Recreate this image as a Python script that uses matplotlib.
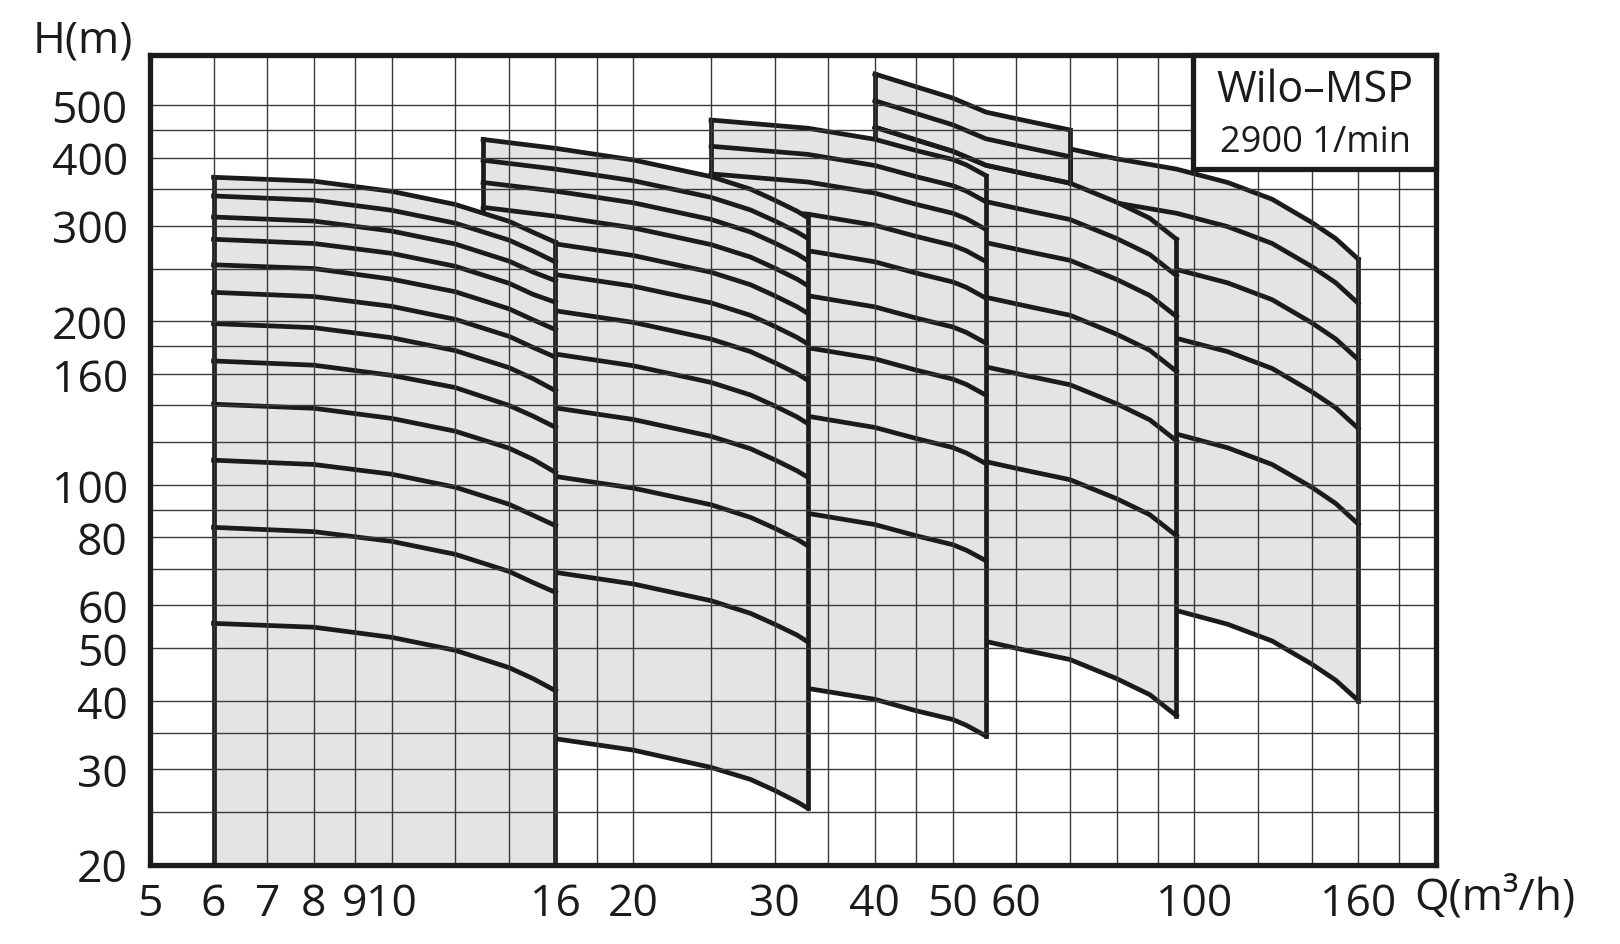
import matplotlib
matplotlib.use("Agg")
import matplotlib.pyplot as plt
from matplotlib.patches import Rectangle

plt.rcParams['font.family'] = ['Open Sans', 'DejaVu Sans']

# axis grid and labels
X_LABELED = [5, 6, 7, 8, 9, 10, 16, 20, 30, 40, 50, 60, 100, 160]
X_GRID = [12, 14, 18, 25, 35, 45, 70, 80, 90, 120, 140, 180]
Y_LABELED = [20, 30, 40, 50, 60, 80, 100, 160, 200, 300, 400, 500]
Y_GRID = [25, 35, 70, 90, 120, 140, 180, 250, 350, 450]

# pump family 1 (6 - 16 m3/h), one row per stage curve
Q_A = [6, 8, 10, 12, 14, 15, 16]
H_A = [
    [55.6, 54.7, 52.4, 49.6, 46.1, 44.0, 41.8],
    [83.5, 82.0, 78.7, 74.5, 69.3, 66.1, 63.4],
    [111, 109, 104.6, 99.0, 92.1, 87.9, 84.1],
    [140.7, 138.3, 132.5, 125.5, 116.8, 111.4, 105.4],
    [169, 166, 159, 151, 140, 133.8, 127.6],
    [198, 194.6, 186.5, 176.6, 164.3, 156.8, 149],
    [226, 222, 213, 201.6, 187.6, 179, 171.7],
    [254, 250, 239, 226.6, 210.8, 201.2, 193],
    [283, 278, 266.6, 252.4, 234.9, 224.1, 216.7],
    [311, 305.7, 293, 277.4, 258, 246.3, 237.5],
    [340, 334, 320, 303, 282, 269.3, 257],
    [368, 362, 346.7, 328, 305.4, 291.5, 279.4],
]

# pump family 2 (13 - 33 m3/h)
Q_B = [13, 16, 20, 25, 28, 30, 32, 33]
H_B = [
    [35.4, 34.1, 32.5, 30.2, 28.7, 27.4, 26.1, 25.4],
    [71.6, 69, 65.7, 61.2, 58.0, 55.4, 52.9, 51.4],
    [107.5, 103.6, 98.6, 91.9, 87.1, 83.2, 79.4, 77.2],
    [143.8, 138.5, 131.9, 122.8, 116.5, 111.2, 106.1, 103.2],
    [180.6, 174, 165.6, 154.3, 146.3, 139.7, 133.3, 129.6],
    [217, 209, 199, 185.4, 175.8, 167.8, 160.1, 155.7],
    [253, 243.7, 232, 216.2, 205, 195.7, 186.7, 181.6],
    [288, 277.5, 264.2, 246.1, 233.4, 222.8, 212.6, 206.7],
    [324, 312, 297, 276.7, 262.4, 250.5, 239, 232.4],
    [360, 347, 330.3, 307.8, 291.8, 278.6, 265.8, 258.5],
    [395.5, 381, 362.7, 338, 320.4, 306, 291.8, 284],
    [432, 416, 396, 369, 349.9, 334, 318.7, 310],
]

# pump family 3 (25 - 55 m3/h)
Q_C = [25, 33, 40, 45, 50, 52, 55]
H_C = [
    [43.7, 42.2, 40.3, 38.4, 37, 36.1, 34.5],
    [91.7, 88.6, 84.5, 80.6, 77.6, 75.8, 72.5],
    [138.4, 133.7, 127.5, 121.7, 117.1, 114.4, 109.4],
    [185, 178.7, 170.5, 162.6, 156.5, 153, 146.2],
    [230.6, 222.8, 212.5, 202.7, 195.2, 190.7, 182.3],
    [279, 269.6, 257.2, 245.3, 236.2, 230.8, 220.5],
    [325.8, 314.8, 300.3, 286.5, 275.8, 269.5, 257.5],
    [373.3, 360.7, 344.1, 328.2, 316, 308.8, 295],
    [419.7, 405.5, 386.8, 369, 355.2, 347.1, 331.7],
    [469, 453, 432.2, 412.2, 396.8, 387.8, 370.6],
]

# pump family 4 (40 - 95 m3/h), the two highest curves stop at 70 m3/h
Q_D = [40, 50, 55, 62, 70, 80, 88, 95]
H_D = [
    [60.5, 54.6, 51.5, 49.5, 47.7, 44, 41.1, 37.6],
    [129.6, 117, 110.3, 106.1, 102.2, 94.3, 88.1, 80.6],
    [193.7, 174.9, 164.8, 158.6, 152.8, 141, 131.7, 120.5],
    [260, 234.8, 221.3, 213, 205.1, 189.3, 176.8, 161.7],
    [328, 296, 279, 268.6, 258.8, 238.8, 223, 204],
    [390, 352, 332, 319.4, 307.7, 284, 265.2, 242.6],
    [455, 410.9, 387.2, 372.6, 359, 331.2, 309.4, 283],
]
Q_D_TOP = [40, 50, 55, 62, 70]
H_D_TOP = [
    [509, 459.6, 433.2, 416.9, 401.6],
    [570, 514.7, 485, 466.8, 449.7],
]

# pump family 5 (70 - 160 m3/h)
Q_E = [70, 80, 95, 110, 125, 140, 150, 160]
H_E = [
    [63.9, 61.3, 58.7, 55.4, 51.6, 46.8, 43.7, 40.1],
    [135, 129.6, 124, 117, 109, 99, 92.4, 84.7],
    [202.6, 194.4, 186, 175.8, 163.7, 148.4, 138.6, 127],
    [271, 260.2, 249, 235.3, 219.1, 198.7, 185.5, 170],
    [344, 330, 316, 298.6, 278, 252.2, 235.4, 215.8],
    [415, 398, 381, 360, 335.3, 304, 283.8, 260.2],
]

INK = '#1b1b1b'
FILL = '#e4e4e4'
LW = 3.4

fig = plt.figure(figsize=(16.2, 9.45), dpi=100)
ax = fig.add_axes([150 / 1620, 79.3 / 945, 1286 / 1620, 809.4 / 945])
ax.set_xscale('log')
ax.set_yscale('log')
ax.set_xlim(5, 200)
ax.set_ylim(20, 617)


def draw_family(q, rows, z, bottom=None):
    top = rows[-1]
    low = rows[0] if bottom is None else [bottom] * len(q)
    ax.fill_between(q, low, top, color=FILL, lw=0, zorder=z)
    for r in rows:
        ax.plot(q, r, color=INK, lw=LW, zorder=z + 0.1, solid_capstyle='projecting')
    # side edges
    ax.plot([q[0], q[0]], [low[0], top[0]], color=INK, lw=LW, zorder=z + 0.1,
            solid_capstyle='projecting')
    ax.plot([q[-1], q[-1]], [low[-1], top[-1]], color=INK, lw=LW, zorder=z + 0.1,
            solid_capstyle='projecting')


# right-hand families first, each next one covers the one before
draw_family(Q_E, H_E, 1.0)
draw_family(Q_D, H_D, 1.2)
draw_family(Q_D_TOP, [H_D[-1][:len(Q_D_TOP)]] + H_D_TOP, 1.2)
draw_family(Q_C, H_C, 1.4)
draw_family(Q_B, H_B, 1.6)
draw_family(Q_A, H_A, 1.8, bottom=20)

ax.set_xticks(X_LABELED, labels=[str(v) for v in X_LABELED])
ax.set_xticks(X_GRID, minor=True)
ax.xaxis.set_minor_formatter(plt.NullFormatter())
ax.set_yticks(Y_LABELED, labels=[str(v) for v in Y_LABELED])
ax.set_yticks(Y_GRID, minor=True)
ax.yaxis.set_minor_formatter(plt.NullFormatter())

ax.set_axisbelow(False)
ax.grid(True, which='both', color='#3a3a3a', linewidth=1.0)
ax.tick_params(which='both', length=0, labelsize=32, colors='#1b1b1b')
ax.tick_params(axis='x', pad=12)
ax.tick_params(axis='y', pad=16)
for s in ax.spines.values():
    s.set_linewidth(3.8)
    s.set_color(INK)
    s.set_zorder(5)

fig.text(0.020, 0.956, 'H(m)', fontsize=32, color=INK, ha='left', va='center')
fig.text(0.873, 0.049, 'Q(m³/h)', fontsize=32, color=INK, ha='left', va='center')

# model box in the upper right corner
ax.add_patch(Rectangle((0.811, 0.8595), 0.189, 0.1405, transform=ax.transAxes,
                       facecolor='white', edgecolor=INK, lw=3.8, zorder=6, clip_on=False))
ax.text(0.906, 0.958, 'Wilo–MSP', transform=ax.transAxes, fontsize=31, color=INK,
        ha='center', va='center', zorder=7)
ax.text(0.906, 0.893, '2900 1/min', transform=ax.transAxes, fontsize=26, color=INK,
        ha='center', va='center', zorder=7)

fig.savefig('out.png', dpi=100)
